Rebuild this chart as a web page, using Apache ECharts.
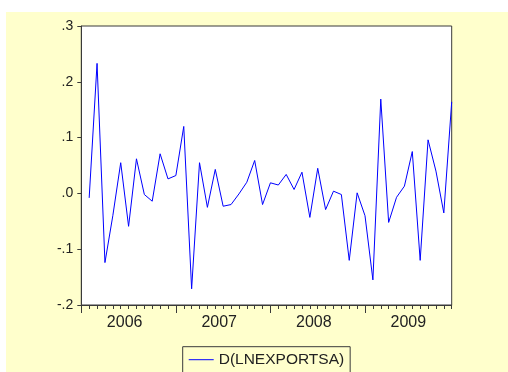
<!DOCTYPE html>
<html>
<head>
<meta charset="utf-8">
<script src="https://cdn.jsdelivr.net/npm/echarts@6/dist/echarts.min.js"></script>
<style>
  html, body { margin: 0; padding: 0; background: #ffffff; }
  #wrap { position: relative; width: 508px; height: 372px; overflow: hidden; }
  #chart { position: absolute; left: 6px; top: 12px; width: 502px; height: 360px; }
</style>
</head>
<body>
<div id="wrap"><div id="chart"></div></div>
<script>
// Monthly first differences of log exports (seasonally adjusted), 2006M01–2009M12
const years = ['2006', '2007', '2008', '2009'];
const months = [];
years.forEach(function (y) {
  for (let m = 1; m <= 12; m++) months.push(y + '-' + (m < 10 ? '0' + m : m));
});

const dLnExports = [
  null, -0.008, 0.233, -0.124, -0.040, 0.055, -0.059, 0.062, -0.002, -0.014, 0.071, 0.026,
  0.032, 0.120, -0.171, 0.055, -0.025, 0.043, -0.023, -0.020, -0.001, 0.020, 0.059, -0.020,
  0.019, 0.015, 0.034, 0.007, 0.038, -0.043, 0.045, -0.029, 0.004, -0.002, -0.120, 0.001,
  -0.040, -0.155, 0.169, -0.052, -0.007, 0.013, 0.075, -0.120, 0.096, 0.040, -0.035, 0.164
];

const yTicks = { min: -0.2, max: 0.3, step: 0.1 };
const seriesName = 'D(LNEXPORTSA)';

// One band between consecutive months; the year label sits in the middle band of its year
const bands = [];
for (let i = 0; i < months.length - 1; i++) bands.push('b' + i);
function yearOfBand(idx) {
  const k = (idx - 5) / 12;
  return Number.isInteger(k) && years[k] ? years[k] : '';
}

function fmtY(v) {
  const r = Math.round(v * 10) / 10;
  const s = Math.abs(r).toFixed(1).replace(/^0/, '');
  return (r < 0 ? '-' : '') + s;
}

const ink = '#222222';
const frame = '#3a3a3a';
const font = 'Liberation Sans, Arial, sans-serif';

const chart = echarts.init(document.getElementById('chart'), null, { renderer: 'canvas' });
chart.setOption({
  backgroundColor: '#FFFFCC',
  animation: false,
  grid: {
    left: 75.3, right: 56.3, top: 14, bottom: 67,
    show: true, backgroundColor: '#ffffff', borderColor: frame, borderWidth: 1
  },
  legend: {
    data: [{ name: seriesName, icon: 'rect' }],
    left: 176.7, top: 334.7,
    orient: 'horizontal',
    padding: [5, 6, 12, 6],
    itemWidth: 25, itemHeight: 1, itemGap: 5,
    itemStyle: { color: '#0000ff', borderWidth: 0 },
    borderColor: frame, borderWidth: 1,
    backgroundColor: 'transparent',
    textStyle: { fontFamily: font, fontSize: 15.5, color: ink, lineHeight: 16 }
  },
  xAxis: [
    {
      type: 'category', data: months, boundaryGap: false, position: 'bottom',
      axisLine: { show: true, onZero: false, lineStyle: { color: frame, width: 1 } },
      axisTick: { show: true, interval: 0, length: 4, inside: false, lineStyle: { color: frame } },
      axisLabel: { show: false },
      splitLine: { show: false }
    },
    {
      type: 'category', data: months, boundaryGap: false, position: 'bottom',
      axisLine: { show: false, onZero: false },
      axisTick: {
        show: true, length: 8, inside: false, lineStyle: { color: frame },
        interval: function (idx) { return idx % 12 === 0; }
      },
      axisLabel: { show: false },
      splitLine: { show: false }
    },
    {
      type: 'category', data: bands, boundaryGap: true, position: 'bottom',
      axisLine: { show: false, onZero: false },
      axisTick: { show: false },
      axisLabel: {
        show: true, interval: 0, margin: 10,
        fontFamily: font, fontSize: 16, color: ink,
        formatter: function (v, idx) { return yearOfBand(idx); }
      },
      splitLine: { show: false }
    }
  ],
  yAxis: {
    type: 'value', min: yTicks.min, max: yTicks.max, interval: yTicks.step,
    axisLine: { show: true, lineStyle: { color: frame, width: 1 } },
    axisTick: { show: true, length: 4, inside: false, lineStyle: { color: frame } },
    axisLabel: { margin: 8, fontFamily: font, fontSize: 14, color: ink, formatter: fmtY },
    splitLine: { show: false }
  },
  series: [
    {
      name: seriesName, type: 'line', data: dLnExports,
      xAxisIndex: 0, yAxisIndex: 0,
      symbol: 'none', showSymbol: false, connectNulls: false,
      lineStyle: { color: '#0000ff', width: 1 },
      itemStyle: { color: '#0000ff' }
    }
  ]
});
</script>
</body>
</html>
